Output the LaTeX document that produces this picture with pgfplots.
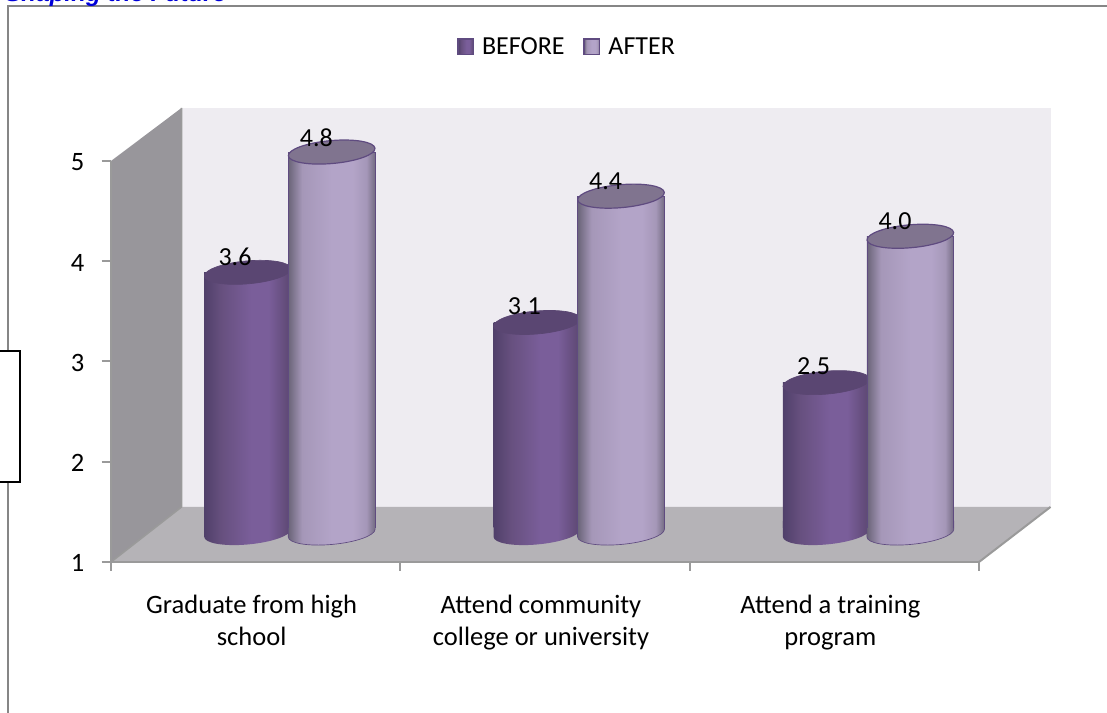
\documentclass[border=0pt]{standalone}
\usepackage{pgfplots}
\pgfplotsset{compat=1.18}
\usepackage{fontspec}
\setmainfont{Carlito}
\newfontfamily\headfont{Liberation Sans}
\usetikzlibrary{shadings}
\definecolor{wallback}{HTML}{EEECF1}
\definecolor{wallside}{HTML}{98969B}
\definecolor{wallfloor}{HTML}{B5B3B7}
\definecolor{axisgray}{HTML}{9A9A9A}
\definecolor{framegray}{HTML}{868686}
\definecolor{topB}{HTML}{5A4672}
\definecolor{topA}{HTML}{80748F}
\definecolor{edgeA}{HTML}{5F4B80}
\definecolor{b0}{HTML}{50406A}\definecolor{b1}{HTML}{67507F}\definecolor{b2}{HTML}{7A5E9A}\definecolor{b3}{HTML}{5B4670}
\definecolor{a0}{HTML}{6A6478}\definecolor{a1}{HTML}{A597B8}\definecolor{a2}{HTML}{B3A4C8}\definecolor{a3}{HTML}{736B82}
\pgfdeclarehorizontalshading{cylB}{100bp}{color(0bp)=(b0); color(25bp)=(b0); color(35bp)=(b1); color(52bp)=(b2); color(62bp)=(b2); color(75bp)=(b3); color(100bp)=(b3)}
\pgfdeclarehorizontalshading{cylA}{100bp}{color(0bp)=(a0); color(25bp)=(a0); color(33bp)=(a1); color(50bp)=(a2); color(62bp)=(a2); color(70bp)=(a1); color(75bp)=(a3); color(100bp)=(a3)}
\pgfdeclareplotmark{baseBmark}{\path[draw=none,shade,shading=cylB] (1.1pt,-0.91pt) .. controls (1.1pt,-5.66pt) and (-13.5pt,-10.785pt) .. (-31.5pt,-12.36pt) .. controls (-49.5pt,-13.935pt) and (-64.1pt,-11.36pt) .. (-64.1pt,-6.61pt) -- (-64.1pt,5.24pt) -- (1.1pt,5.24pt) -- cycle;}
\pgfdeclareplotmark{baseAmark}{\path[draw=edgeA,line width=.5pt,shade,shading=cylA] (64.1pt,-0.91pt) .. controls (64.1pt,-5.66pt) and (49.5pt,-10.785pt) .. (31.5pt,-12.36pt) .. controls (13.5pt,-13.935pt) and (-1.1pt,-11.36pt) .. (-1.1pt,-6.61pt) -- (-1.1pt,5.24pt) -- (64.1pt,5.24pt) -- cycle;}
\pgfdeclareplotmark{topBmark}{\path[fill=topB,draw=topB,line width=.5pt] (-31.5pt,0pt) ellipse [x radius=32.6pt,y radius=8.6pt,rotate=5];}
\pgfdeclareplotmark{topAmark}{\path[fill=topA,draw=edgeA,line width=.9pt] (31.5pt,0pt) ellipse [x radius=32.6pt,y radius=8.6pt,rotate=5];}
\pgfplotsset{
  barB/.style={ybar,bar width=65.2pt,bar shift=-31.5pt,shade,shading=cylB,draw=none},
  barA/.style={ybar,bar width=65.2pt,bar shift=31.5pt,shade,shading=cylA,draw=edgeA,line width=.5pt},
}
\begin{document}
\begin{tikzpicture}[x=0.75pt,y=0.75pt]
\path[use as bounding box] (0,0) rectangle (1107,713);
% outer frame and cropped slide furniture
\draw[framegray,line width=1.5pt] (8,0) -- (8,707) -- (1107,707);
\node[anchor=base west,inner sep=0pt,text=blue!85!black,font=\headfont\bfseries\itshape\fontsize{18.2}{18}\selectfont] at (5,711.5) {Shaping the Future};
\draw[black,line width=1pt,fill=white] (-5,362) rectangle (20,231);
% front axis: walls, floor, ticks and labels
\begin{axis}[
  at={(83.25pt,113.25pt)},anchor=south west,
  scale only axis,width=651pt,height=300.75pt,
  xmin=0,xmax=3,ymin=1,ymax=5,clip=false,
  axis x line*=bottom,axis y line*=left,
  axis line style={draw=axisgray,line width=1.5pt},
  axis on top,
  ytick={1,2,3,4,5},
  xtick={0.5,1.5,2.5},
  minor xtick={0,1,2,3},
  xticklabels={Graduate from high\\school,Attend community\\college or university,Attend a training\\program},
  major x tick style={draw=none},
  minor x tick style={draw=axisgray,line width=1.5pt},
  minor tick length=6.5pt,
  major tick length=7pt,
  tick align=outside,
  y tick style={draw=axisgray,line width=1.5pt},
  /pgf/number format/assume math mode=true,
  tick label style={font=\fontsize{19.9}{24}\selectfont},
  x tick label style={align=center,xshift=-3pt,yshift=-14pt},
  y tick label style={xshift=-9.5pt,yshift=-1pt},
]
\fill[wallback] (axis cs:0.2437,1.549) rectangle (axis cs:3.2472,5.529);
\fill[wallside] (axis cs:0,1) -- (axis cs:0.2437,1.549) -- (axis cs:0.2437,5.529) -- (axis cs:0,5) -- cycle;
\fill[wallfloor] (axis cs:0,1) -- (axis cs:0.2437,1.549) -- (axis cs:3.2472,1.549) -- (axis cs:3,1) -- cycle;
\draw[axisgray,line width=1.2pt] (axis cs:0,1) -- (axis cs:0.2437,1.549) -- (axis cs:0.2437,5.529);
\draw[axisgray,line width=1.5pt] (axis cs:3,1) -- (axis cs:3.2472,1.549);
\end{axis}
% cylinders: same scale, moved to the middle of the floor's depth
\begin{axis}[
  at={(108.75pt,138.75pt)},anchor=south west,
  scale only axis,width=651pt,height=296.99pt,
  xmin=0,xmax=3,ymin=1.05,ymax=5,
  hide axis,clip mode=individual,
  /pgf/number format/assume math mode=true,
  /pgf/number format/fixed,/pgf/number format/fixed zerofill,/pgf/number format/precision=1,
  legend style={at={(0.4867,1.215)},anchor=center,draw=none,fill=none,legend columns=2,
    font=\fontsize{19.5}{20}\selectfont,/tikz/every even column/.append style={column sep=12pt},
    inner sep=0pt},
  legend cell align=left,
]
\addplot[forget plot,only marks,mark=baseBmark] coordinates {(0.5,1.05) (1.5,1.05) (2.5,1.05)};
\addplot[barB,
  legend image code/.code={\draw[fill=b2,draw=edgeA,line width=1.2pt] (0pt,-5.7pt) rectangle (11.5pt,5.7pt);\path (16pt,0pt);}]
  coordinates {(0.5,3.6)};
\addlegendentry{BEFORE}
\addplot[barB,forget plot] coordinates {(1.5,3.1)};
\addplot[barB,forget plot] coordinates {(2.5,2.5)};
\addplot[forget plot,only marks,mark=topBmark,
  nodes near coords,every node near coord/.style={anchor=center,xshift=-41pt,yshift=12pt,text=black,font=\fontsize{19.5}{20}\selectfont,inner sep=0pt}]
  coordinates {(0.5,3.6) (1.5,3.1) (2.5,2.5)};
\addplot[forget plot,only marks,mark=baseAmark] coordinates {(0.5,1.05) (1.5,1.05) (2.5,1.05)};
\addplot[barA,
  legend image code/.code={\draw[fill=a1,draw=edgeA,line width=1.2pt] (0pt,-5.7pt) rectangle (11.5pt,5.7pt);\path (16pt,0pt);}]
  coordinates {(0.5,4.8)};
\addlegendentry{AFTER}
\addplot[barA,forget plot] coordinates {(1.5,4.36)};
\addplot[barA,forget plot] coordinates {(2.5,3.96)};
\addplot[forget plot,only marks,mark=topAmark,
  nodes near coords,every node near coord/.style={anchor=center,xshift=20pt,yshift=11pt,text=black,font=\fontsize{19.5}{20}\selectfont,inner sep=0pt}]
  coordinates {(0.5,4.8) (1.5,4.36) (2.5,3.96)};
\end{axis}
\end{tikzpicture}
\end{document}
